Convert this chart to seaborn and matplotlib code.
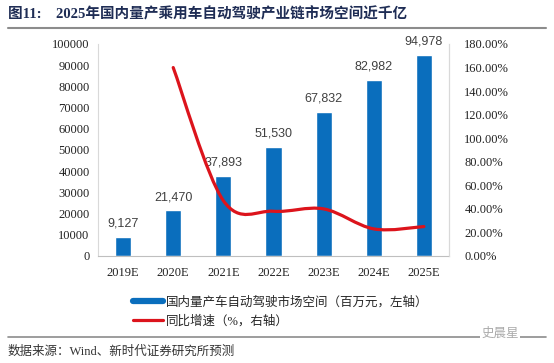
import numpy as np
import pandas as pd
import seaborn as sns
import matplotlib.pyplot as plt
from matplotlib.path import Path
from matplotlib.patches import PathPatch
from matplotlib.lines import Line2D
from matplotlib.ticker import FuncFormatter

# data
years = ["2019E", "2020E", "2021E", "2022E", "2023E", "2024E", "2025E"]
market = [9127, 21470, 37893, 51530, 67832, 82982, 94978]
growth = [None, 1.60, 0.47, 0.38, 0.40, 0.23, 0.25]
title_text = "图11:    2025年国内量产乘用车自动驾驶产业链市场空间近千亿"
bar_label = "国内量产车自动驾驶市场空间（百万元，左轴）"
line_label = "同比增速（%，右轴）"
source_text = "数据来源：Wind、新时代证券研究所预测"

sns.set_style("white")
plt.rcParams['font.family'] = ['Liberation Serif', 'Noto Sans CJK SC', 'DejaVu Sans']

BLUE = "#0A6EBD"
RED = "#DC141C"

df = pd.DataFrame({"year": years, "market": market})

fig = plt.figure(figsize=(5.54, 3.63), dpi=100)
ax = fig.add_axes([98 / 554, 1 - 256 / 363, 351 / 554, 212 / 363])
sns.barplot(data=df, x="year", y="market", color=BLUE, width=0.32,
            saturation=1, ax=ax)
ax.set_xlim(-0.5, len(years) - 0.5)
ax.set_ylim(0, 100000)
ax.set_yticks(range(0, 100001, 10000))
ax.set_xlabel("")
ax.set_ylabel("")
ax.tick_params(axis="both", labelsize=9, colors="#222222", length=0, pad=6)
ax.tick_params(axis="x", pad=8)
for i, v in enumerate(market):
    ax.text(i, v + 3500, f"{v:,}", ha="center", va="bottom", fontsize=9,
            color="#404040", family="Liberation Sans")
ax.spines["top"].set_visible(False)
ax.spines["left"].set_color("#D9D9D9")
ax.spines["right"].set_color("#D9D9D9")
ax.spines["bottom"].set_color("#BFBFBF")

# right axis with smoothed growth line
ax2 = ax.twinx()
ax2.set_ylim(0, 1.8)
ax2.set_yticks(np.arange(0, 1.81, 0.2))
ax2.yaxis.set_major_formatter(FuncFormatter(lambda v, _: f"{v * 100:.2f}%"))
ax2.tick_params(axis="y", labelsize=9, colors="#222222", length=0, pad=11)
for s in ["top", "left", "bottom"]:
    ax2.spines[s].set_visible(False)
ax2.spines["right"].set_color("#D9D9D9")

pts = [(i, g) for i, g in enumerate(growth) if g is not None]
verts = [pts[0]]
codes = [Path.MOVETO]
n = len(pts)
for k in range(n - 1):
    p0 = np.array(pts[max(k - 1, 0)])
    p1 = np.array(pts[k])
    p2 = np.array(pts[k + 1])
    p3 = np.array(pts[min(k + 2, n - 1)])
    c1 = p1 + (p2 - p0) / 6
    c2 = p2 - (p3 - p1) / 6
    verts += [tuple(c1), tuple(c2), tuple(p2)]
    codes += [Path.CURVE4] * 3
ax2.add_patch(PathPatch(Path(verts, codes), fill=False, edgecolor=RED,
                        lw=2.3, capstyle="round", joinstyle="round"))

# legend below the plot
handles = [Line2D([], [], color=BLUE, lw=4.5), Line2D([], [], color=RED, lw=2.3)]
fig.legend(handles, [bar_label, line_label], loc="upper left",
           bbox_to_anchor=(122 / 554, 1 - 285 / 363), frameon=False,
           handlelength=2.4, handletextpad=0.2, labelspacing=0.5,
           prop={"family": ["Liberation Serif", "Noto Sans CJK SC"], "size": 9})

# title, rules and source
fig.text(8 / 554, 1 - 14 / 363, title_text, ha="left", va="center",
         fontsize=10.5, fontweight="bold", color="#1F2D55",
         family=["Liberation Serif", "Noto Sans CJK SC"])
fig.add_artist(Line2D([8 / 554, 546 / 554], [1 - 28 / 363] * 2,
                      color="#8C8C8C", lw=1.5))
fig.add_artist(Line2D([8 / 554, 546 / 554], [1 - 337 / 363] * 2,
                      color="#8C8C8C", lw=1.2))
fig.text(8 / 554, 1 - 352 / 363, source_text, ha="left", va="center",
         fontsize=9, color="#333333",
         family=["Liberation Serif", "Noto Sans CJK SC"])
fig.text(500 / 554, 1 - 333 / 363, "史晨星", ha="center", va="center",
         fontsize=9, color="#AAAAAA", family="Noto Sans CJK SC",
         bbox=dict(facecolor="white", edgecolor="none", pad=1))

fig.savefig("out.png", dpi=100, facecolor="white")
